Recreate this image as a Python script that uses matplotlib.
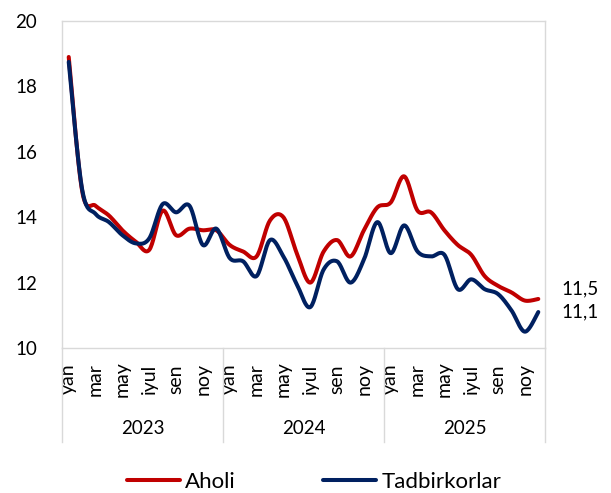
import numpy as np
import matplotlib
matplotlib.use("Agg")
import matplotlib.pyplot as plt
import matplotlib.transforms as mtransforms

# ==========================
# Data
# ==========================
years = ["2023", "2024", "2025"]
month_labels = ["yan", "mar", "may", "iyul", "sen", "noy"]

aholi = [18.9, 14.8, 14.35, 14.05, 13.6, 13.25, 13.0, 14.2, 13.45, 13.65, 13.6, 13.6,
         13.15, 12.95, 12.8, 13.9, 14.0, 12.9, 12.0, 12.95, 13.3, 12.8, 13.6, 14.3,
         14.45, 15.25, 14.2, 14.15, 13.6, 13.15, 12.85, 12.2, 11.9, 11.7, 11.45, 11.5]
tadbirkorlar = [18.75, 14.85, 14.1, 13.85, 13.45, 13.2, 13.35, 14.4, 14.15, 14.35, 13.15, 13.65,
                12.75, 12.65, 12.2, 13.3, 12.8, 11.95, 11.25, 12.4, 12.65, 12.0, 12.7, 13.85,
                12.9, 13.75, 12.95, 12.8, 12.85, 11.8, 12.1, 11.8, 11.65, 11.15, 10.5, 11.1]

RED = "#C00000"
BLUE = "#002060"
GRID = "#D9D9D9"

plt.rcParams["font.family"] = ["Lato", "DejaVu Sans"]
FS_NUM = 13.5    # tick numbers, years, end labels
FS_MON = 14      # month labels
FS_LEG = 16      # legend


# Excel-style smoothed line (Bezier through the data points)
def smooth(y, n=20):
    y = np.asarray(y, dtype=float)
    x = np.arange(len(y), dtype=float)
    p = np.concatenate([[y[0]], y, [y[-1]]])
    px = np.concatenate([[x[0]], x, [x[-1]]])
    xs, ys = [], []
    t = np.linspace(0, 1, n, endpoint=False)
    for i in range(len(y) - 1):
        p0, p1, p2, p3 = p[i], p[i + 1], p[i + 2], p[i + 3]
        q0, q1, q2, q3 = px[i], px[i + 1], px[i + 2], px[i + 3]
        b1 = p1 + (p2 - p0) / 6
        b2 = p2 - (p3 - p1) / 6
        c1 = q1 + (q2 - q0) / 6
        c2 = q2 - (q3 - q1) / 6
        ys.append((1 - t) ** 3 * p1 + 3 * (1 - t) ** 2 * t * b1 + 3 * (1 - t) * t ** 2 * b2 + t ** 3 * p2)
        xs.append((1 - t) ** 3 * q1 + 3 * (1 - t) ** 2 * t * c1 + 3 * (1 - t) * t ** 2 * c2 + t ** 3 * q2)
    xs.append([x[-1]])
    ys.append([y[-1]])
    return np.concatenate(xs), np.concatenate(ys)


fig = plt.figure(figsize=(6.11, 4.93), dpi=100)
ax = fig.add_axes([0.1015, 0.2941, 0.7905, 0.6633])

xa, ya = smooth(aholi)
xt, yt = smooth(tadbirkorlar)
ax.plot(xa, ya, color=RED, lw=2.9, solid_capstyle="round", label="Aholi")
ax.plot(xt, yt, color=BLUE, lw=2.9, solid_capstyle="round", label="Tadbirkorlar")

n = len(aholi)
ax.set_xlim(-0.5, n - 0.5)
ax.set_ylim(10, 20)
ax.set_yticks(np.arange(10, 21, 2))
ax.tick_params(axis="y", length=0, pad=18, labelsize=FS_NUM)

for s in ax.spines.values():
    s.set_color(GRID)
    s.set_linewidth(1)

# month labels
ticks = np.arange(0, n, 2)
ax.set_xticks(ticks)
ax.set_xticklabels([month_labels[(i % 12) // 2] for i in ticks], rotation=90, fontsize=FS_MON)
ax.tick_params(axis="x", length=0, pad=0)
for lbl in ax.get_xticklabels():
    lbl.set_verticalalignment("center")
    lbl.set_y(-0.095)

# year labels and separators
trans = mtransforms.blended_transform_factory(ax.transData, ax.transAxes)
for k, yr in enumerate(years):
    ax.text(12 * k + 5.5, -0.245, yr, transform=trans, ha="center", va="center", fontsize=FS_NUM)
for k in range(len(years) + 1):
    ax.plot([12 * k - 0.5, 12 * k - 0.5], [0, -0.287], transform=trans, color=GRID, lw=1, clip_on=False)

# end labels
ax.annotate("11,5", xy=(n - 1, aholi[-1]), xytext=(17, 7), textcoords="offset points",
            ha="left", va="center", fontsize=FS_NUM)
ax.annotate("11,1", xy=(n - 1, tadbirkorlar[-1]), xytext=(17, 0), textcoords="offset points",
            ha="left", va="center", fontsize=FS_NUM)

fig.legend(loc="center", bbox_to_anchor=(0.514, 0.022), ncol=2, frameon=False, fontsize=FS_LEG,
           handlelength=2.4, handletextpad=0.25, columnspacing=3.9)

fig.savefig("out.png", dpi=100)
